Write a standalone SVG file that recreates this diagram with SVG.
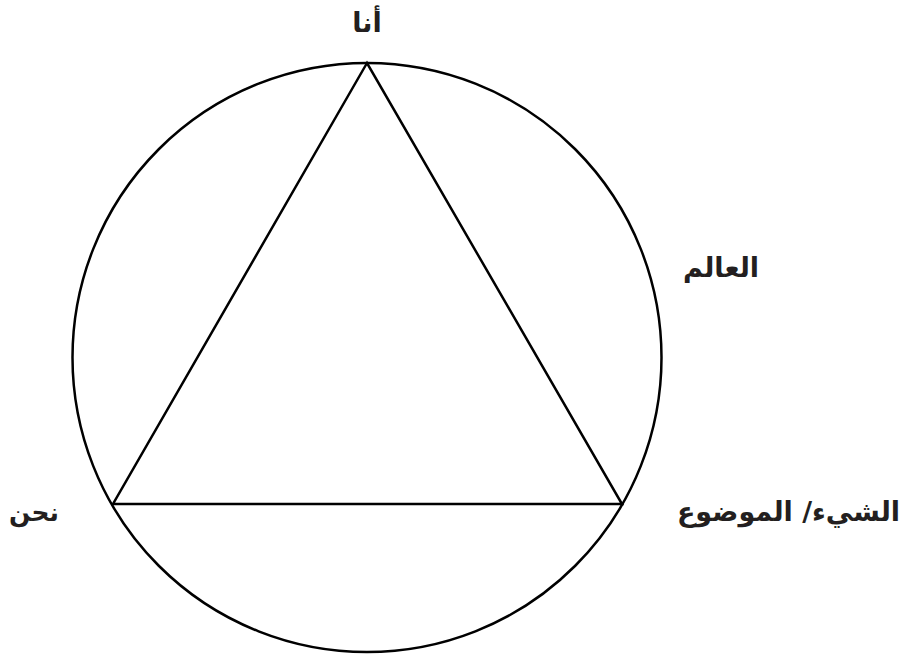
<svg xmlns="http://www.w3.org/2000/svg" width="913" height="655" viewBox="0 0 913 655">
<style>
.ln{fill:none;stroke:#000;stroke-width:2.5}
.lb{font-family:"DejaVu Sans","Noto Sans",sans-serif;font-weight:bold;font-size:27px;fill:#231f20;direction:rtl}
</style>
<rect width="913" height="655" fill="#fff"/>
<g id="connectors">
<circle class="ln" cx="367" cy="357.5" r="294.5"/>
<polygon class="ln" points="367,63 113,504 622,504" stroke-linejoin="miter"/>
</g>
<g id="node-ana"><text class="lb" x="367" y="32" text-anchor="middle">أنا</text></g>
<g id="node-alam"><text class="lb" x="721" y="277" text-anchor="middle">العالم</text></g>
<g id="node-nahnu"><text class="lb" x="34" y="521" text-anchor="middle" style="font-size:25px">نحن</text></g>
<g id="node-shay"><text class="lb" x="788.5" y="521" text-anchor="middle">الشيء/ الموضوع</text></g>
</svg>
